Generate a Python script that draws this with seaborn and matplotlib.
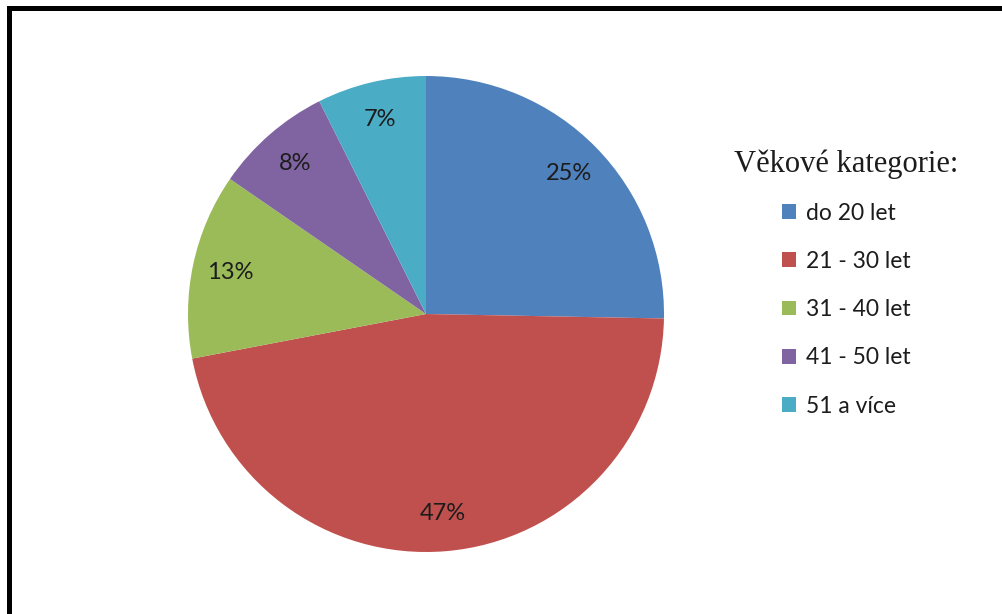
import matplotlib
matplotlib.use("Agg")
import matplotlib.pyplot as plt
from matplotlib.patches import Rectangle
import seaborn as sns

# Age-group shares (percent of respondents)
categories = ["do 20 let", "21 - 30 let", "31 - 40 let", "41 - 50 let", "51 a více"]
shares = [25.3, 46.7, 12.6, 8.0, 7.4]
colors = ["#4F81BD", "#C0504D", "#9BBB59", "#8064A2", "#4BACC6"]
legend_title = "Věkové kategorie:"

sns.set_theme(style="white")
plt.rcParams["font.family"] = ["Lato", "DejaVu Sans"]

W, H = 1002, 614
fig = plt.figure(figsize=(W / 100, H / 100), dpi=100)
fig.patch.set_facecolor("white")

# pie axes: centre (426, 314) px, radius 238 px
cx, cy, r = 426, 314, 238
ax = fig.add_axes([(cx - r) / W, (H - cy - r) / H, 2 * r / W, 2 * r / H])
palette = sns.color_palette(colors)
wedges, texts, autotexts = ax.pie(
    shares,
    colors=palette,
    startangle=90,
    counterclock=False,
    autopct="%.0f%%",
    pctdistance=0.84,
    wedgeprops=dict(linewidth=0),
    textprops=dict(fontsize=17, color="#1c1c1c"),
)
ax.set_xlim(-1, 1)
ax.set_ylim(-1, 1)
ax.set_aspect("equal")
ax.axis("off")

leg = fig.legend(
    wedges,
    categories,
    title=legend_title,
    loc="center",
    bbox_to_anchor=(846 / W, 1 - 283 / H),
    frameon=False,
    fontsize=16.5,
    handlelength=0.62,
    handleheight=0.62,
    handletextpad=0.42,
    labelspacing=1.19,
    title_fontproperties=dict(family="Liberation Serif", size=22),
    alignment="center",
)
for t in leg.get_texts():
    t.set_color("#1c1c1c")
leg.get_title().set_color("#1c1c1c")
leg._legend_box.sep = 17

# outer frame, running off the right and bottom edges
frame = Rectangle((9.2 / W, -0.1), 1.2, 1 - 8.2 / H + 0.1, transform=fig.transFigure,
                  fill=False, edgecolor="black", linewidth=3.6)
fig.patches.append(frame)

fig.savefig("out.png", dpi=100)
